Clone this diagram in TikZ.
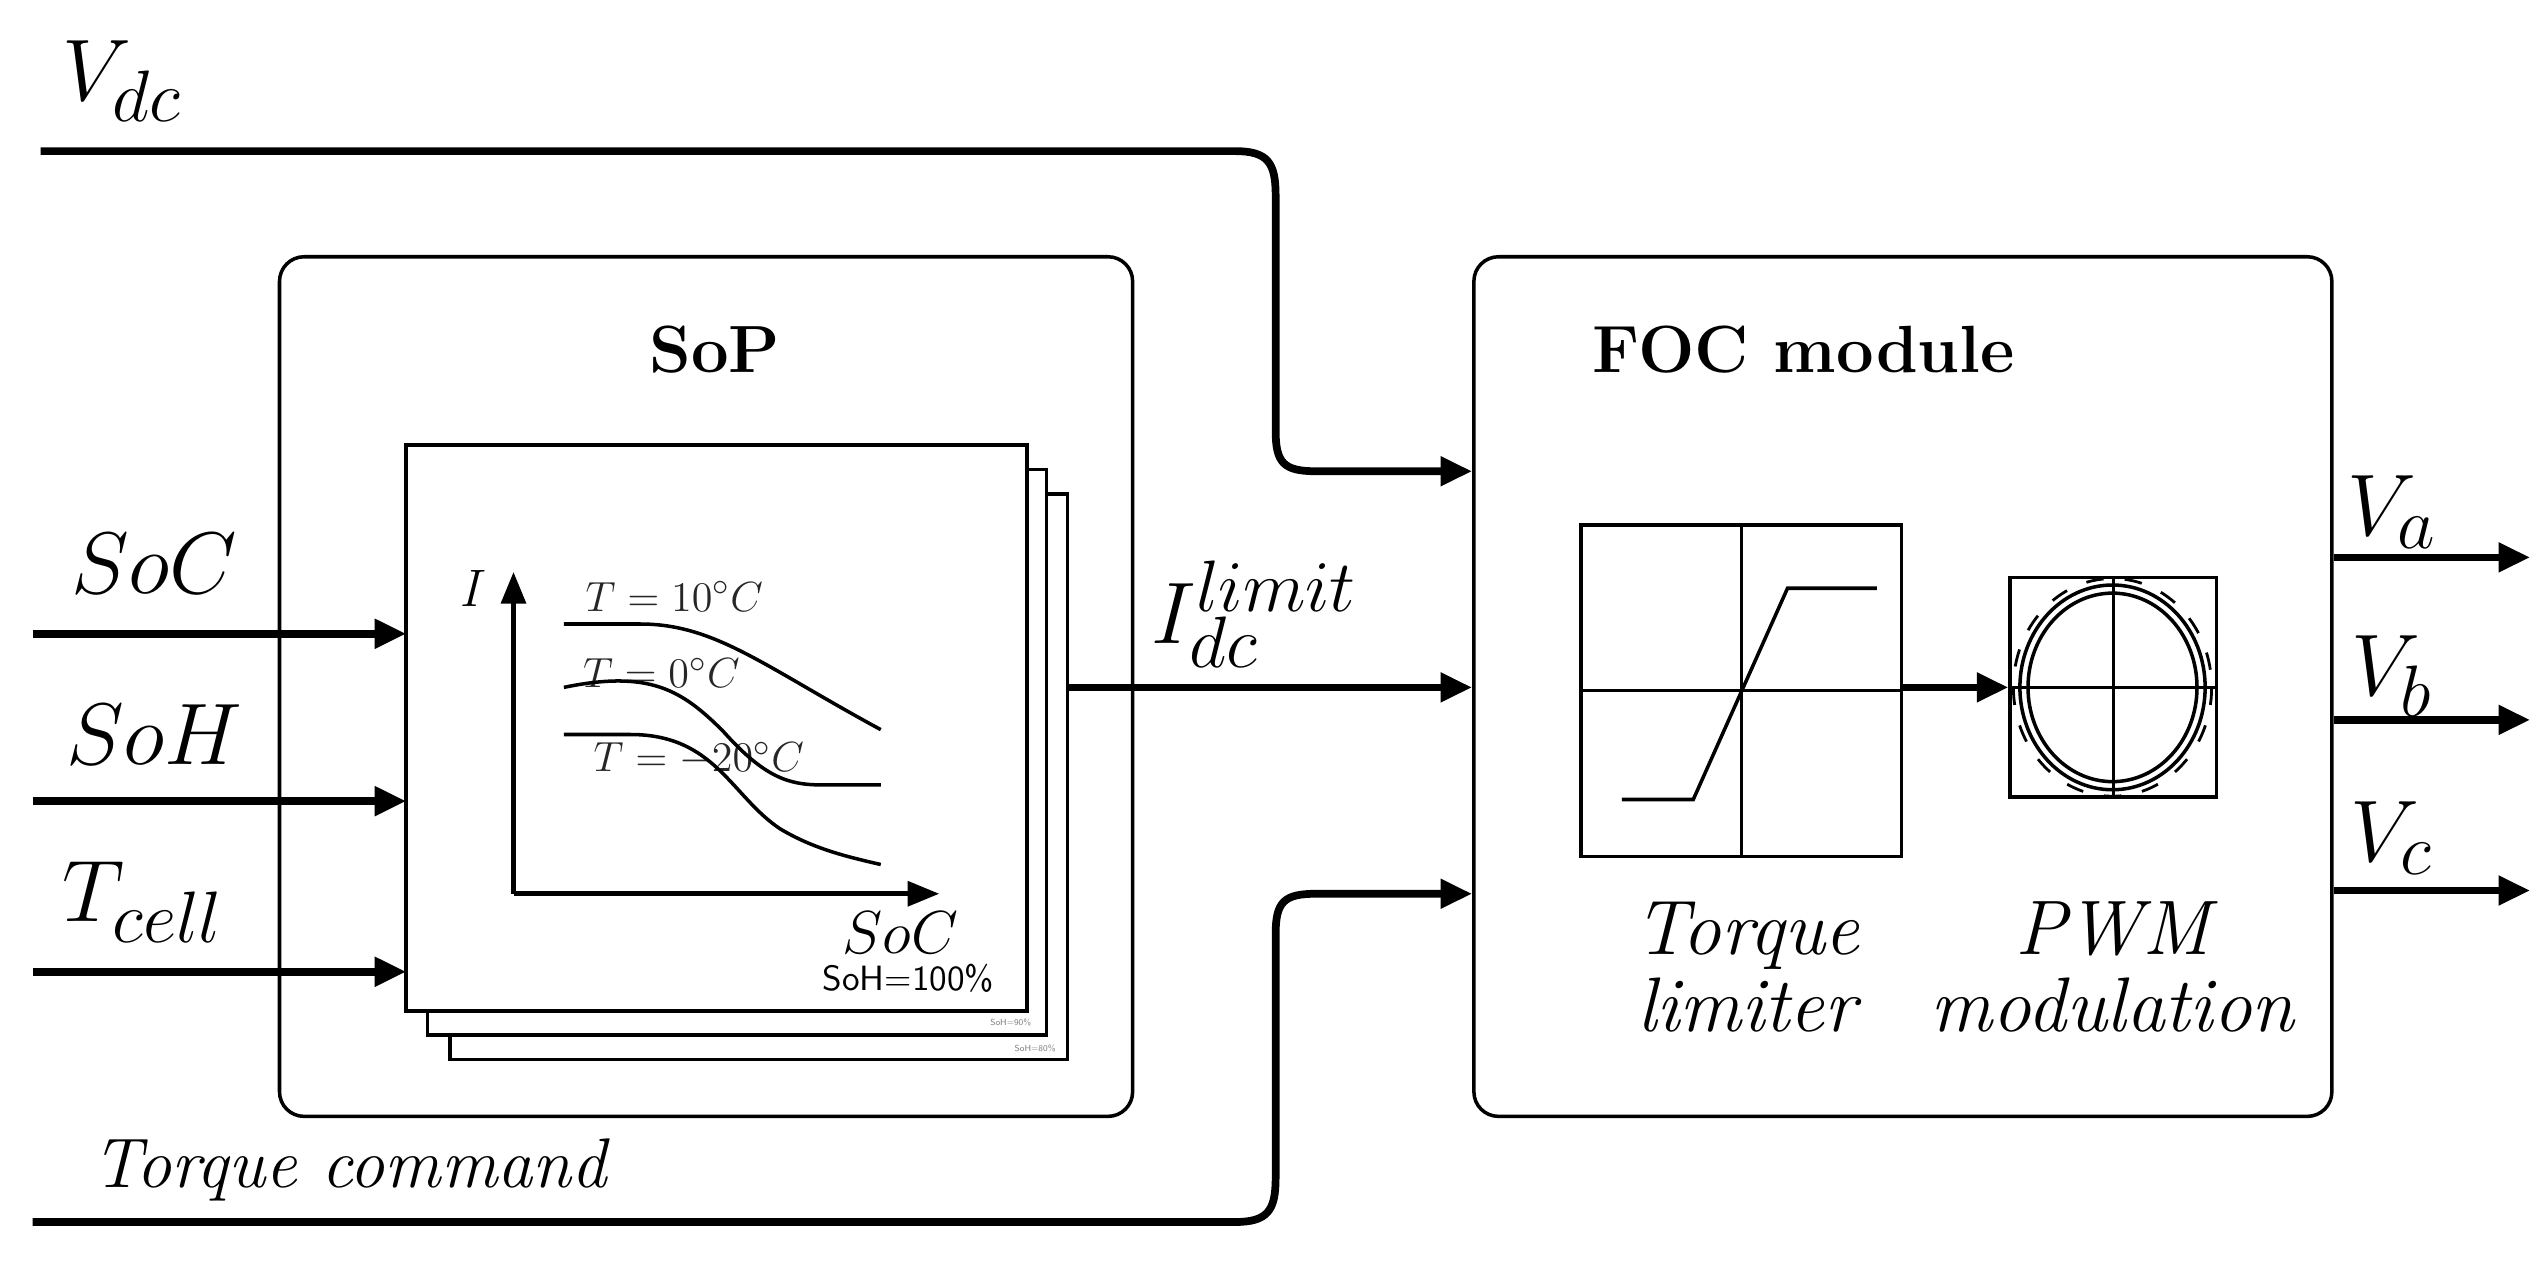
\documentclass[tikz,border=0pt]{standalone}
\usepackage{tikz}
\usetikzlibrary{arrows.meta,positioning}
\newcommand{\fs}[1]{\fontsize{#1}{#1}\selectfont}
\tikzset{
  block/.style={draw, line width=1pt, rounded corners=7pt, inner sep=0pt},
  sheet/.style={draw, fill=white, line width=1pt},
  sig/.style={line width=2.2pt, -{Triangle[length=9pt,width=8pt]}},
  big/.style={font=\fs{28}},
  lbl/.style={font=\fs{22}\itshape, align=center},
}
\begin{document}
\begin{tikzpicture}[x=0.01625cm, y=-0.01625cm]
    \useasboundingbox (0,0) rectangle (1568,777);

    % blocks
    \node[block, minimum width=525*0.01625cm, minimum height=529*0.01625cm] (sop) at (434.5,422.5) {};
    \node[block, minimum width=528*0.01625cm, minimum height=529*0.01625cm] (foc) at (1171,422.5) {};
    \node[font=\fs{19}\bfseries] (soptitle) at (440,215) {SoP};
    \node[font=\fs{19}\bfseries] (foctitle) at (1110,215) {FOC module};

    % stacked look-up sheets
    \draw[sheet] (277,304) rectangle (657,652);
    \draw[sheet] (263,289) rectangle (644,637);
    \draw[sheet] (250,274) rectangle (632,622);
    \node[font=\fs{2.5}\sffamily, gray] at (622,629) {SoH=90\%};
    \node[font=\fs{2.5}\sffamily, gray] at (637,645) {SoH=80\%};
    \coordinate (o) at (316,550);
    \draw[line width=1.3pt, -{Triangle[length=9pt,width=7pt]}] (o) -- (316,352);
    \draw[line width=1.3pt, -{Triangle[length=9pt,width=7pt]}] (o) -- (578,550);
    \node[font=\fs{15}\itshape] at (289,362) {I};
    \node[font=\fs{16}] at (554,574) {$SoC$};
    \node[font=\fs{10}\sffamily] at (559,602) {SoH=100\%};
    \draw[line width=1pt] (347,384) -- (394,384) .. controls (440,384) and (470,410) .. (542,449);
    \draw[line width=1pt] (347,423) .. controls (400,412) and (420,425) .. (445,450)
        .. controls (470,478) and (485,483) .. (505,483) -- (542,483);
    \draw[line width=1pt] (347,452) -- (388,452) .. controls (440,452) and (450,490) .. (480,510)
        .. controls (500,522) and (520,527) .. (542,532);
    \node[font=\fs{13}, opacity=0.85] at (415,367) {$T=10^{\circ}C$};
    \node[font=\fs{13}, opacity=0.85] at (407,414) {$T=0^{\circ}C$};
    \node[font=\fs{13}, opacity=0.85] at (430,467) {$T=-20^{\circ}C$};

    % torque limiter
    \node[draw, line width=1pt, minimum width=197*0.01625cm, minimum height=204*0.01625cm, inner sep=0pt] (lim) at (1071.5,425) {};
    \draw[line width=0.8pt] (lim.north) -- (lim.south) (lim.west) -- (lim.east);
    \draw[line width=1pt] (998,492) -- (1042,492) -- (1100,362) -- (1155,362);
    % PWM
    \node[draw, line width=1pt, minimum width=127*0.01625cm, minimum height=135*0.01625cm, inner sep=0pt] (pwm) at (1300.5,423) {};
    \draw[line width=0.8pt] (pwm.north) -- (pwm.south) (pwm.west) -- (pwm.east);
    \draw[line width=1pt] (1300,423) ellipse (52 and 58);
    \draw[line width=1pt] (1300,423) ellipse (57 and 63);
    \draw[line width=0.8pt, dash pattern=on 5pt off 6pt] (1300,423) ellipse (61 and 67);
    \draw[sig] (lim.east |- 0,423) -- (pwm.west);
    \node[lbl] (limtxt) at (1075,595) {Torque\\limiter};
    \node[lbl] (pwmtxt) at (1300,595) {PWM\\modulation};

    % inputs
    \coordinate (vdcin) at (25,93);
    \coordinate (tqin) at (20,752);
    \coordinate (socin) at (20,390);
    \coordinate (sohin) at (20,493);
    \coordinate (tcin) at (20,598);
    \node[big] at (75,50) {$V_{dc}$};
    \node[big] at (95,347) {$SoC$};
    \node[big] at (95,452) {$SoH$};
    \node[big] at (88,555) {$T_{cell}$};
    \node[font=\fs{20}\itshape] at (215,720) {Torque command};
    \draw[sig] (vdcin) -- (760,93) .. controls (780,93) and (785,100) .. (785,120)
        -- (785,265) .. controls (785,285) and (790,290) .. (810,290) -- (foc.west |- 0,290);
    \draw[sig] (tqin) -- (760,752) .. controls (780,752) and (785,745) .. (785,725)
        -- (785,575) .. controls (785,555) and (790,550) .. (810,550) -- (foc.west |- 0,550);
    \draw[sig] (socin) -- (250,390);
    \draw[sig] (sohin) -- (250,493);
    \draw[sig] (tcin) -- (250,598);
    \draw[sig] (657,423) -- (foc.west |- 0,423);
    \node[big] at (772,378) {$I_{dc}^{limit}$};

    % outputs
    \draw[sig] (foc.east |- 0,343) -- (1557,343);
    \draw[sig] (foc.east |- 0,443) -- (1557,443);
    \draw[sig] (foc.east |- 0,548) -- (1557,548);
    \node[big] at (1472,315) {$V_a$};
    \node[big] at (1472,416) {$V_b$};
    \node[big] at (1472,516) {$V_c$};
\end{tikzpicture}
\end{document}
